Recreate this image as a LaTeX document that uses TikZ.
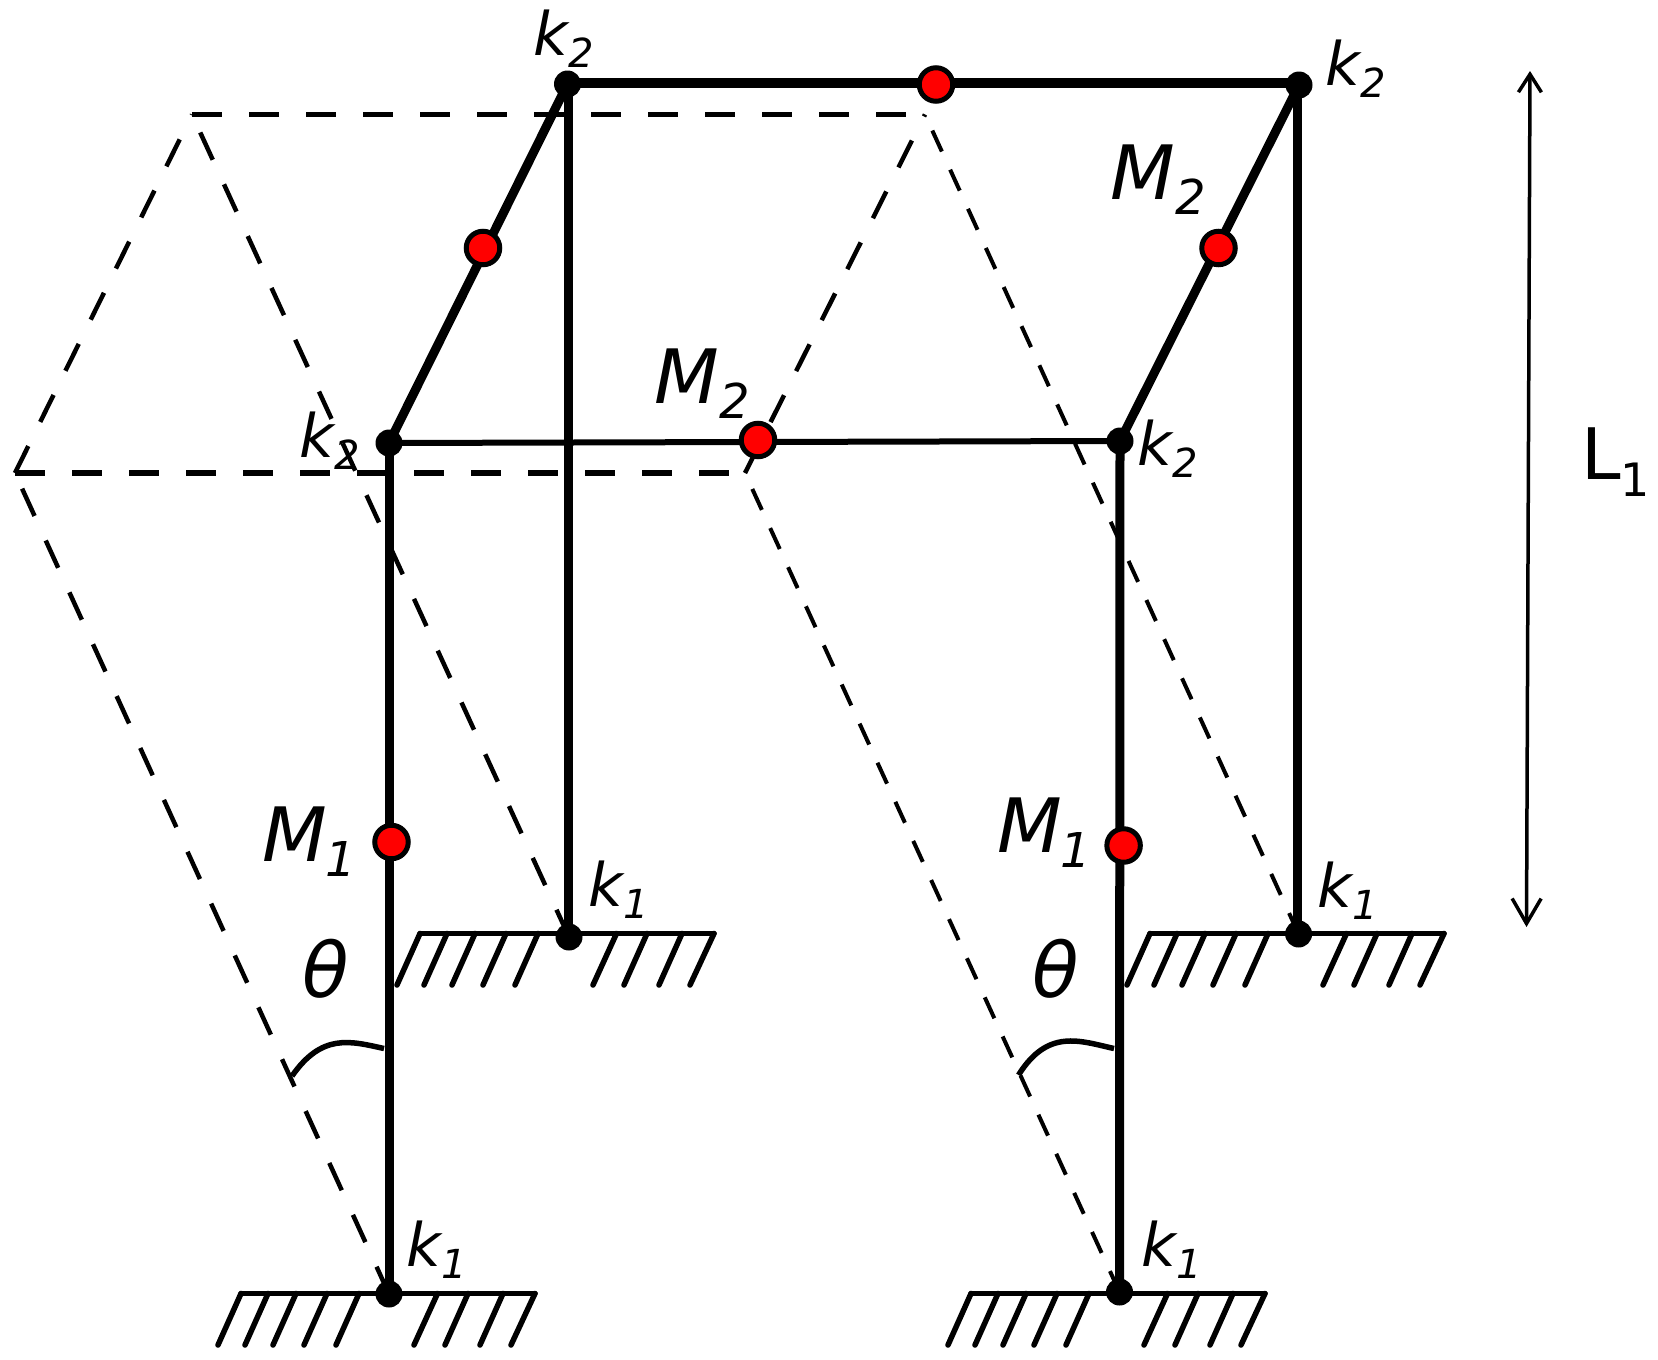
\documentclass[tikz,border=0pt]{standalone}
\usepackage{fontspec}
\setmainfont{DejaVu Sans}
\usetikzlibrary{arrows.meta,backgrounds}
\newcommand{\kl}[1]{{\itshape\fontsize{60}{60}\selectfont k\kern 1pt\raisebox{-12pt}{\fontsize{40}{40}\selectfont #1}}}
\newcommand{\ml}[2]{{\itshape\fontsize{75}{75}\selectfont M\kern #2pt\raisebox{-15pt}{\fontsize{48}{48}\selectfont #1}}}
\tikzset{
  joint/.style={circle,fill=black,inner sep=0pt,minimum size=27pt},
  mass/.style={circle,fill=red,draw=black,line width=5pt,inner sep=0pt,minimum size=33.5pt},
  txt/.style={anchor=base west,inner sep=0pt,outer sep=0pt},
  beam/.style={line width=9pt},
  topbeam/.style={line width=10pt},
  thinbeam/.style={line width=6pt},
  ghost/.style={line width=4.5pt,dash pattern=on 30pt off 27pt},
  ghostb/.style={line width=4pt,dash pattern=on 23pt off 20pt},
  ghosth/.style={line width=5.5pt,dash pattern=on 30pt off 27pt},
  groundline/.style={line width=5.5pt,line cap=round},
  dimline/.style={line width=3.5pt},
  anglearc/.style={line width=5.5pt}
}
\begin{document}
\begin{tikzpicture}[x=1pt,y=-1pt]
\useasboundingbox (0,0) rectangle (1658,1360);
% joints
\node[joint] (tl) at (567.5,84) {};
\node[joint] (tr) at (1299,85) {};
\node[joint] (fl) at (389,443) {};
\node[joint] (fr) at (1120,441) {};
\node[joint] (bfl) at (389,1294) {};
\node[joint] (bfr) at (1119.5,1292) {};
\node[joint] (brl) at (569,937) {};
\node[joint] (brr) at (1298.6,934) {};
% masses
\node[mass] (m1) at (483,248) {};
\node[mass] (m2) at (1218.5,248) {};
\node[mass] (m3) at (936,84.5) {};
\node[mass] (m4) at (758,440) {};
\node[mass] (m5) at (391.5,842) {};
\node[mass] (m6) at (1123.6,845.5) {};
% ghost corners and free ends
\coordinate (ga) at (192,114.5);
\coordinate (gb) at (925,114.5);
\coordinate (gc) at (15,473);
\coordinate (gd) at (745,473);
\coordinate (ardA) at (1530,71);
\coordinate (ardB) at (1526.5,927);
\coordinate (thA) at (384,1048.5);
\coordinate (thB) at (292,1076);
\coordinate (thC) at (1114,1048.5);
\coordinate (thD) at (1018.5,1075);
\coordinate (tbl) at (567.5,83);
\coordinate (tbr) at (1299,83);
\coordinate (rla) at (568,84);
\coordinate (rlb) at (568,937);
\coordinate (rra) at (1297.5,85);
\coordinate (rrb) at (1297.5,934);
\begin{scope}[on background layer]
  \draw[ghosth] (ga) -- (gb);
  \draw[ghosth] (gc) -- (gd);
  \draw[ghost] (gc) -- (ga);
  \draw[ghost] (gd) -- (gb);
  \draw[ghost] (bfl.center) -- (gc);
  \draw[ghost] (brl.center) -- (ga);
  \draw[ghostb] (bfr.center) -- (gd);
  \draw[ghostb] (brr.center) -- (gb);
  \draw[topbeam] (tbl) -- (tbr);
  \draw[beam] (fl.center) -- (tl.center);
  \draw[beam] (fr.center) -- (tr.center);
  \draw[thinbeam] (fl.center) -- (fr.center);
  \draw[beam] (fl.center) -- (bfl.center);
  \draw[beam] (fr.center) -- (bfr.center);
  \draw[beam] (rla) -- (rlb);
  \draw[beam] (rra) -- (rrb);
  % grounds
  \foreach \dx/\dy in {0/0,179/-360,730/0,909/-360}{
    \begin{scope}[shift={(\dx,\dy)}]
      \draw[groundline] (241,1293.5) -- (535,1293.5);
      \foreach \a/\b in {241/218,268/245,296/273,327/304,359/336,437.5/414,468/445,503/480,535/511}
        \draw[groundline] (\a,1293.5) -- (\b,1345);
    \end{scope}
  }
\end{scope}
% dimension arrow
\draw[dimline,{Straight Barb[length=18pt,width=23pt,line width=3.5pt]}-{Straight Barb[length=25pt,width=29pt,line width=3.5pt]}] (ardA) -- (ardB);
% angle arcs
\draw[anglearc] (thA) .. controls (350,1041) and (322,1033) .. (thB);
\draw[anglearc] (thC) .. controls (1080,1041) and (1048,1028) .. (thD);
% labels
\node[txt] (lk2a) at (533,55) {\kl{2}};
\node[txt] (lk2b) at (1325,85) {\kl{2}};
\node[txt] (lk2c) at (1137,465) {\kl{2}};
\node[txt] (lk2d) at (299,457) {\kl{2}};
\node[txt] (lk1a) at (588,906) {\kl{1}};
\node[txt] (lk1b) at (406,1266) {\kl{1}};
\node[txt] (lk1c) at (1317,907) {\kl{1}};
\node[txt] (lk1d) at (1141,1266) {\kl{1}};
\node[txt] (lm2a) at (654,403) {\ml{2}{1}};
\node[txt] (lm2b) at (1110,199.5) {\ml{2}{1}};
\node[txt] (lm1a) at (262,861) {\ml{1}{-1}};
\node[txt] (lm1b) at (997,852) {\ml{1}{-1}};
\node[txt] (lth1) at (302,997) {\itshape\fontsize{76}{76}\selectfont θ};
\node[txt] (lth2) at (1032,997) {\itshape\fontsize{76}{76}\selectfont θ};
\node[txt] (ll1) at (1581,479) {\fontsize{71}{71}\selectfont L\kern 0pt\raisebox{-17pt}{\fontsize{46}{46}\selectfont 1}};
\end{tikzpicture}
\end{document}
